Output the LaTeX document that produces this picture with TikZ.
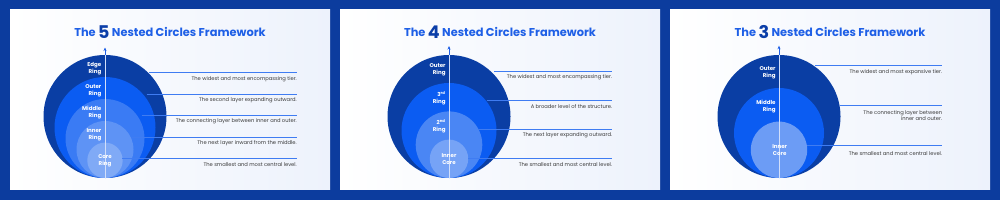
\documentclass[tikz,border=0pt]{standalone}
\usepackage{fontspec}
\setmainfont{Poppins}
\usetikzlibrary{arrows.meta}
\definecolor{frame}{HTML}{0C3C9E}
\definecolor{navy}{HTML}{0A3EA4}
\definecolor{bright}{HTML}{0B5CF2}
\definecolor{ringA}{HTML}{3A7BF4}
\definecolor{ringB}{HTML}{5E93F5}
\definecolor{ringC}{HTML}{80AAF6}
\definecolor{ringD}{HTML}{4A86F4}
\definecolor{ringE}{HTML}{76A3F6}
\definecolor{ringF}{HTML}{6C9CF5}
\definecolor{tblue}{HTML}{1E5FE6}
\definecolor{tdark}{HTML}{0B3EA8}
\definecolor{linec}{HTML}{3F7CF2}
\definecolor{txtc}{HTML}{3A3A3A}
\definecolor{panelR}{HTML}{EDF2FC}
\tikzset{
  panel/.style={left color=white, right color=panelR},
  ring/.style={circle, inner sep=0pt, outer sep=0pt, minimum size=#1},
  title/.style={anchor=base, text=tblue, font=\bfseries\fontsize{11.4}{11.4}\selectfont},
  rlabel/.style={anchor=east, text=white, align=right, font=\bfseries\fontsize{5.5}{7.3}\selectfont, inner sep=0pt},
  clabel/.style={anchor=center, text=white, align=center, font=\bfseries\fontsize{5.5}{7.3}\selectfont, inner sep=0pt},
  desc/.style={anchor=east, text=txtc, align=right, font=\fontsize{5.2}{6.2}\selectfont, inner sep=0pt},
  tierline/.style={draw=linec, line width=0.8pt},
  axis/.style={draw=tblue, line width=0.8pt, -{Stealth[length=3.5pt,width=3pt]}},
  axisin/.style={draw=white, opacity=0.8, line width=0.8pt}
}
\newcommand{\bignum}[1]{\raisebox{-1.4pt}{\textcolor{tdark}{\fontsize{17.5}{17.5}\selectfont #1}}}
\begin{document}
\begin{tikzpicture}[x=1pt,y=-1pt]
\useasboundingbox (0,0) rectangle (1000,200);
\fill[frame] (0,0) rectangle (1000,200);
\shade[panel] (10,10) rectangle (330,189.3);
\shade[panel] (340,10) rectangle (660,189.3);
\shade[panel] (670,10) rectangle (990,189.3);

% ---------------- Panel 1 ----------------
\node[title] (t1) at (170,36.7) {The \bignum{5} Nested Circles Framework};
\node[ring=123pt, fill=navy]   (a1) at (105,116.5) {};
\node[ring=101pt, fill=bright] (a2) at (105,127.5) {};
\node[ring=79pt,  fill=ringA]  (a3) at (105,138.5) {};
\node[ring=57pt,  fill=ringB]  (a4) at (105,149.5) {};
\node[ring=35.4pt,fill=ringC]  (a5) at (105,160.3) {};
\coordinate (a0b) at (105,178);
\coordinate (a0t) at (105,47.5);
\draw[axis] (a0b) -- (a0t);
\begin{scope}
  \clip (a1.center) circle[radius=61.5pt];
  \draw[axisin] (a0b) -- (a0t);
\end{scope}
\coordinate (as1) at (148.5,72.7);  \coordinate (ae1) at (297,72.7);
\coordinate (as2) at (146.7,94.3);  \coordinate (ae2) at (297,94.3);
\coordinate (as3) at (141.7,115.7); \coordinate (ae3) at (297,115.7);
\coordinate (as4) at (131.7,137);   \coordinate (ae4) at (297,137);
\coordinate (as5) at (122,158.7);   \coordinate (ae5) at (297,158.7);
\foreach \i in {1,...,5}{\draw[tierline] (as\i) -- (ae\i);}
\node[rlabel] (al1) at (101.5,68.5) {Edge\\Ring};
\node[rlabel] (al2) at (101.5,90.5) {Outer\\Ring};
\node[rlabel] (al3) at (101.5,112.5) {Middle\\Ring};
\node[rlabel] (al4) at (101.5,134.5) {Inner\\Ring};
\node[clabel] (al5) at (105,161) {Core\\Ring};
\node[desc] (ad1) at (297,79) {The widest and most encompassing tier.};
\node[desc] (ad2) at (297,100.3) {The second layer expanding outward.};
\node[desc] (ad3) at (297,121.7) {The connecting layer between inner and outer.};
\node[desc] (ad4) at (297,142.9) {The next layer inward from the middle.};
\node[desc] (ad5) at (297,164.3) {The smallest and most central level.};

% ---------------- Panel 2 ----------------
\node[title] (t2) at (500,36.7) {The \bignum{4} Nested Circles Framework};
\node[ring=123pt,  fill=navy]   (b1) at (449,116.5) {};
\node[ring=95pt,   fill=bright] (b2) at (449,130.5) {};
\node[ring=66.6pt, fill=ringD]  (b3) at (449,144.7) {};
\node[ring=38.4pt, fill=ringE]  (b4) at (449,158.8) {};
\coordinate (b0b) at (449,178);
\coordinate (b0t) at (449,46);
\draw[axis] (b0b) -- (b0t);
\begin{scope}
  \clip (b1.center) circle[radius=61.5pt];
  \draw[axisin] (b0b) -- (b0t);
\end{scope}
\coordinate (bs1) at (494,71);    \coordinate (be1) at (612.3,71);
\coordinate (bs2) at (486.5,100); \coordinate (be2) at (612.3,100);
\coordinate (bs3) at (478.3,129); \coordinate (be3) at (612.3,129);
\coordinate (bs4) at (468.3,158.3); \coordinate (be4) at (612.3,158.3);
\foreach \i in {1,...,4}{\draw[tierline] (bs\i) -- (be\i);}
\node[rlabel] (bl1) at (445.7,69.5) {Outer\\Ring};
\node[rlabel] (bl2) at (445.7,98) {3\textsuperscript{rd}\\Ring};
\node[rlabel] (bl3) at (445.7,126.3) {2\textsuperscript{nd}\\Ring};
\node[clabel] (bl4) at (449,158.8) {Inner\\Core};
\node[desc] (bd1) at (612.3,77) {The widest and most encompassing tier.};
\node[desc] (bd2) at (612.3,106.5) {A broader level of the structure.};
\node[desc] (bd3) at (612.3,135.7) {The next layer expanding outward.};
\node[desc] (bd4) at (612.3,164.3) {The smallest and most central level.};

% ---------------- Panel 3 ----------------
\node[title] (t3) at (830,36.7) {The \bignum{3} Nested Circles Framework};
\node[ring=123pt,  fill=navy]   (c1) at (779,116.5) {};
\node[ring=90pt,   fill=bright] (c2) at (779,133) {};
\node[ring=56.4pt, fill=ringF]  (c3) at (779,149.8) {};
\coordinate (c0b) at (779,178);
\coordinate (c0t) at (779,45.7);
\draw[axis] (c0b) -- (c0t);
\begin{scope}
  \clip (c1.center) circle[radius=61.5pt];
  \draw[axisin] (c0b) -- (c0t);
\end{scope}
\coordinate (cs1) at (815,65.3);    \coordinate (ce1) at (942.3,65.3);
\coordinate (cs2) at (840,105.3);   \coordinate (ce2) at (942.3,105.3);
\coordinate (cs3) at (807.3,145.3); \coordinate (ce3) at (942.3,145.3);
\foreach \i in {1,...,3}{\draw[tierline] (cs\i) -- (ce\i);}
\node[rlabel] (cl1) at (775.7,72.5) {Outer\\Ring};
\node[rlabel] (cl2) at (775.7,106.3) {Middle\\Ring};
\node[clabel] (cl3) at (779.7,150.3) {Inner\\Core};
\node[desc] (cd1) at (942.3,72) {The widest and most expansive tier.};
\node[desc] (cd2) at (942.3,115.3) {The connecting layer between\\inner and outer.};
\node[desc] (cd3) at (942.3,153.3) {The smallest and most central level.};
\end{tikzpicture}
\end{document}
